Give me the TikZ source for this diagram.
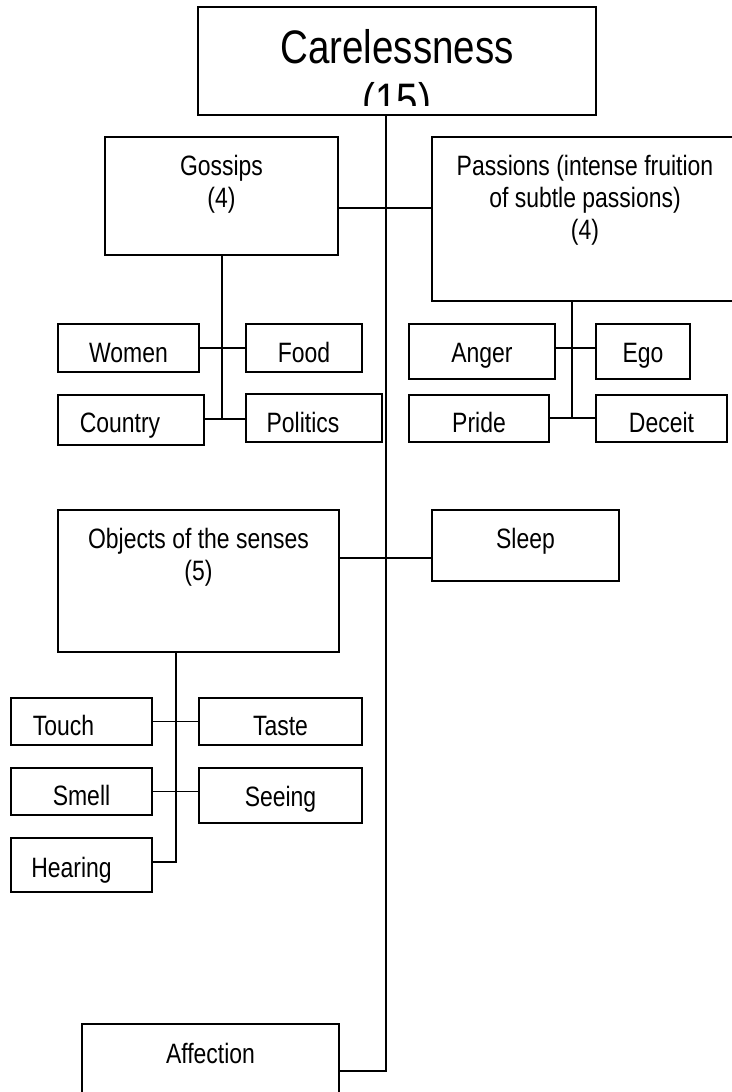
\documentclass[tikz,border=0pt]{standalone}
\usepackage{fontspec}
\setmainfont{Liberation Sans}[FakeStretch=0.82]
\usetikzlibrary{positioning}

\begin{document}
\begin{tikzpicture}[x=1pt, y=-1pt,
    box/.style={draw, line width=1.3pt, rectangle, inner sep=0pt, outer sep=0pt, anchor=north west},
    lbl/.style={inner sep=0pt, font=\fontsize{28}{32}\selectfont, align=center},
    link/.style={line width=1.1pt}]
  \useasboundingbox (0,0) rectangle (731,1092);

  % top box, text cut off at the bottom
  \node[box, minimum width=398pt, minimum height=108pt] (careless) at (198,7) {};
  \begin{scope}
    \clip (198,7) rectangle (596,105);
    \node[lbl, font=\fontsize{47}{53}\selectfont, below=22pt of careless.north] (carelessT) {Carelessness\\(15)};
  \end{scope}

  % gossips and passions
  \node[box, minimum width=233pt, minimum height=118pt] (gossips) at (105,137) {};
  \node[lbl, below=18pt of gossips.north] (gossipsT) {Gossips\\(4)};
  \node[box, minimum width=306pt, minimum height=164pt] (passions) at (432,137) {};
  \node[lbl, below=18pt of passions.north] (passionsT) {Passions (intense fruition\\of subtle passions)\\(4)};

  \node[box, minimum width=141pt, minimum height=48pt] (women) at (58,324) {};
  \node[lbl, below=38pt of women.north, anchor=base] (womenT) {Women};
  \node[box, minimum width=116pt, minimum height=48pt] (food) at (246,324) {};
  \node[lbl, below=38pt of food.north, anchor=base] (foodT) {Food};
  \node[box, minimum width=146pt, minimum height=50pt] (country) at (58,395) {};
  \node[lbl, below=37pt of country.north, anchor=base, xshift=-11pt] (countryT) {Country};
  \node[box, minimum width=136pt, minimum height=48pt] (politics) at (246,394) {};
  \node[lbl, below=38pt of politics.north, anchor=base, xshift=-11pt] (politicsT) {Politics};

  \node[box, minimum width=146pt, minimum height=55pt] (anger) at (409,324) {};
  \node[lbl, below=38pt of anger.north, anchor=base] (angerT) {Anger};
  \node[box, minimum width=94pt, minimum height=55pt] (ego) at (596,324) {};
  \node[lbl, below=38pt of ego.north, anchor=base] (egoT) {Ego};
  \node[box, minimum width=140pt, minimum height=47pt] (pride) at (409,395) {};
  \node[lbl, below=37pt of pride.north, anchor=base] (prideT) {Pride};
  \node[box, minimum width=131pt, minimum height=47pt] (deceit) at (596,395) {};
  \node[lbl, below=37pt of deceit.north, anchor=base] (deceitT) {Deceit};

  % senses and sleep
  \node[box, minimum width=281pt, minimum height=142pt] (objects) at (58,510) {};
  \node[lbl, below=18pt of objects.north] (objectsT) {Objects of the senses\\(5)};
  \node[box, minimum width=187pt, minimum height=71pt] (sleep) at (432,510) {};
  \node[lbl, below=38pt of sleep.north, anchor=base] (sleepT) {Sleep};

  \node[box, minimum width=141pt, minimum height=47pt] (touch) at (11,698) {};
  \node[lbl, below=37pt of touch.north, anchor=base, xshift=-18pt] (touchT) {Touch};
  \node[box, minimum width=163pt, minimum height=47pt] (taste) at (199,698) {};
  \node[lbl, below=37pt of taste.north, anchor=base] (tasteT) {Taste};
  \node[box, minimum width=141pt, minimum height=47pt] (smell) at (11,768) {};
  \node[lbl, below=37pt of smell.north, anchor=base] (smellT) {Smell};
  \node[box, minimum width=163pt, minimum height=55pt] (seeing) at (199,768) {};
  \node[lbl, below=38pt of seeing.north, anchor=base] (seeingT) {Seeing};
  \node[box, minimum width=141pt, minimum height=54pt] (hearing) at (11,838) {};
  \node[lbl, below=39pt of hearing.north, anchor=base, xshift=-10pt] (hearingT) {Hearing};

  \node[box, minimum width=257pt, minimum height=76pt] (affection) at (82,1024) {};
  \node[lbl, below=39pt of affection.north, anchor=base] (affectionT) {Affection};

  % connectors
  \coordinate (spinebot) at (386,1071);
  \coordinate (gp) at (386,208);
  \coordinate (os) at (386,558);
  \draw[link] (careless.south -| spinebot) -- (spinebot) -- (affection.east |- spinebot);
  \draw[link] (gossips.east |- gp) -- (passions.west |- gp);
  \draw[link] (objects.east |- os) -- (sleep.west |- os);

  \coordinate (gj) at (222,419);
  \draw[link] (gossips.south -| gj) -- (gj);
  \draw[link] (women.east) -- (food.west);
  \draw[link] (country.east |- gj) -- (politics.west |- gj);

  \coordinate (pj) at (572,418);
  \coordinate (pa) at (572,348);
  \draw[link] (passions.south -| pj) -- (pj);
  \draw[link] (anger.east |- pa) -- (ego.west |- pa);
  \draw[link] (pride.east |- pj) -- (deceit.west |- pj);

  \coordinate (oj) at (176,862);
  \draw[link] (objects.south -| oj) -- (oj) -- (hearing.east |- oj);
  \draw[link] (touch.east) -- (taste.west);
  \draw[link] (smell.east) -- (smell.east -| seeing.west);
\end{tikzpicture}
\end{document}
